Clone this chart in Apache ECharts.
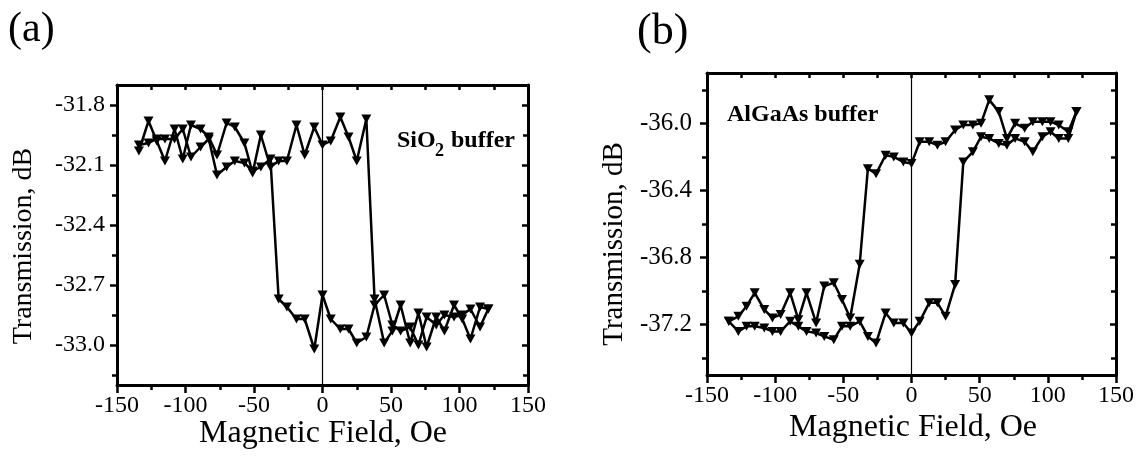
<!DOCTYPE html>
<html>
<head>
<meta charset="utf-8">
<script src="https://cdn.jsdelivr.net/npm/echarts@6/dist/echarts.min.js"></script>
<style>
  html, body { margin: 0; padding: 0; background: #fff; }
  #chart { width: 1137px; height: 456px; }
</style>
</head>
<body>
<div id="chart"></div>
<script>
const fieldOe = [-134,-127,-121,-115,-108,-102,-96,-89,-83,-77,-70,-64,-57,-51,-45,-38,-32,-26,-19,-13,
  -6,0,6,13,19,25,32,38,45,51,57,64,70,76,83,89,96,102,108,115,121];

// (a) SiO2 buffer
const sio2Up = [-32.03,-31.88,-31.98,-32.08,-31.92,-32.07,-31.90,-31.92,-31.96,-32.05,
  -31.89,-31.91,-31.99,-32.14,-31.95,-32.11,-32.08,-32.08,-31.90,-32.05,
  -31.91,-32.00,-31.98,-31.86,-31.96,-32.08,-31.87,-32.77,-32.99,-32.93,
  -32.80,-32.99,-32.84,-33.01,-32.86,-32.93,-32.80,-32.87,-32.97,-32.81,-32.82];
const sio2Down = [-32.00,-31.99,-31.97,-31.97,-31.97,-31.92,-32.06,-32.01,-31.97,-32.15,
  -32.11,-32.08,-32.09,-32.13,-32.11,-32.07,-32.77,-32.81,-32.87,-32.87,
  -33.02,-32.75,-32.87,-32.92,-32.92,-32.99,-32.96,-32.80,-32.75,-32.90,
  -32.93,-32.91,-33.00,-32.86,-32.90,-32.85,-32.86,-32.85,-32.82,-32.91,-32.82];

// (b) AlGaAs buffer
const algaasUp = [-37.18,-37.24,-37.21,-37.21,-37.22,-37.24,-37.24,-37.18,-37.21,-37.24,
  -37.25,-37.27,-37.29,-37.21,-37.21,-37.18,-37.27,-37.31,-37.13,-37.19,
  -37.19,-37.25,-37.18,-37.07,-37.07,-37.15,-36.96,-36.23,-36.17,-36.08,
  -36.09,-36.12,-36.13,-36.09,-36.11,-36.17,-36.08,-36.05,-36.09,-36.09,-35.93];
const algaasDown = [-37.18,-37.15,-37.09,-37.01,-37.11,-37.16,-37.14,-37.01,-37.17,-37.01,
  -37.19,-36.97,-36.95,-37.05,-37.16,-36.84,-36.27,-36.30,-36.19,-36.20,
  -36.23,-36.24,-36.11,-36.11,-36.13,-36.11,-36.04,-36.01,-36.01,-36.00,
  -35.86,-35.93,-36.09,-36.00,-36.03,-35.99,-35.99,-35.99,-36.01,-36.05,-35.93];

const sio2Range = [-33.2, -31.7];
const sio2Ticks = [-33.0, -32.7, -32.4, -32.1, -31.8];
const sio2Minor = [-33.15, -32.85, -32.55, -32.25, -31.95];
const algaasRange = [-37.5, -35.7];
const algaasTicks = [-37.2, -36.8, -36.4, -36.0];
const algaasMinor = [-37.4, -37.0, -36.6, -36.2, -35.8];

const FONT = '"Liberation Serif", "Times New Roman", serif';
const chart = echarts.init(document.getElementById('chart'));

function xAxes(gi) {
  const base = {
    type: 'value', gridIndex: gi, min: -150, max: 150, interval: 50,
    splitLine: { show: false },
    axisLine: { onZero: false, lineStyle: { color: '#000', width: 3 } }
  };
  return [
    Object.assign({}, base, {
      position: 'bottom',
      axisTick: { length: 8, lineStyle: { color: '#000', width: 2.5 } },
      minorTick: { show: true, splitNumber: 2, length: 5, lineStyle: { color: '#000', width: 2.5 } },
      axisLabel: { margin: 9, color: '#000', fontFamily: FONT, fontSize: 24 }
    }),
    Object.assign({}, base, {
      position: 'top',
      axisTick: { inside: true, length: 5, lineStyle: { color: '#000', width: 2.5 } },
      minorTick: { show: true, splitNumber: 2, length: 5, lineStyle: { color: '#000', width: 2.5 } },
      axisLabel: { show: false }
    })
  ];
}

function yAxes(gi, range, ticks, minor, labelSize, labelMargin) {
  const base = {
    type: 'value', gridIndex: gi, min: range[0], max: range[1],
    splitLine: { show: false },
    axisLine: { onZero: false, lineStyle: { color: '#000', width: 3 } }
  };
  const tickStyle = { color: '#000', width: 2.5 };
  return [
    Object.assign({}, base, {
      position: 'left',
      axisTick: { length: 7, customValues: ticks, lineStyle: tickStyle },
      axisLabel: { customValues: ticks, margin: labelMargin, color: '#000', fontFamily: FONT,
        fontSize: labelSize, formatter: v => v.toFixed(1) }
    }),
    Object.assign({}, base, {
      position: 'left',
      axisLine: { show: false, onZero: false },
      axisTick: { length: 5, customValues: minor, lineStyle: tickStyle },
      axisLabel: { show: false }
    }),
    Object.assign({}, base, {
      position: 'right',
      axisTick: { inside: true, length: 6, customValues: ticks, lineStyle: tickStyle },
      axisLabel: { show: false }
    }),
    Object.assign({}, base, {
      position: 'right',
      axisLine: { show: false, onZero: false },
      axisTick: { inside: true, length: 5, customValues: minor, lineStyle: tickStyle },
      axisLabel: { show: false }
    })
  ];
}

function sweep(values, xi, yi, zeroLine) {
  const s = {
    type: 'line', xAxisIndex: xi, yAxisIndex: yi,
    data: fieldOe.map((x, i) => [x, values[i]]),
    symbol: 'triangle', symbolRotate: 180, symbolSize: [10, 9], showAllSymbol: true,
    lineStyle: { color: '#000', width: 2.5 },
    itemStyle: { color: '#000' },
    silent: true
  };
  if (zeroLine) {
    s.markLine = {
      silent: true, symbol: 'none', label: { show: false },
      lineStyle: { color: '#000', width: 1.2, type: 'solid' },
      data: [{ xAxis: 0 }]
    };
  }
  return s;
}

const option = {
  animation: false,
  backgroundColor: '#fff',
  grid: [
    { left: 117, top: 85, width: 411, height: 300 },
    { left: 707, top: 73, width: 411, height: 302 }
  ],
  xAxis: xAxes(0).concat(xAxes(1)),
  yAxis: yAxes(0, sio2Range, sio2Ticks, sio2Minor, 24, 12)
    .concat(yAxes(1, algaasRange, algaasTicks, algaasMinor, 25, 15)),
  series: [
    sweep(sio2Up, 0, 0, true),
    sweep(sio2Down, 0, 0, false),
    sweep(algaasUp, 2, 4, true),
    sweep(algaasDown, 2, 4, false)
  ],
  graphic: [
    { type: 'text', x: 8, y: 30, style: { text: '(a)', font: '42px ' + FONT, fill: '#000', verticalAlign: 'middle' } },
    { type: 'text', x: 637, y: 32, style: { text: '(b)', font: '44px ' + FONT, fill: '#000', verticalAlign: 'middle' } },
    { type: 'text', x: 24, y: 246, rotation: Math.PI / 2,
      style: { text: 'Transmission, dB', font: '28px ' + FONT, fill: '#000', align: 'center', verticalAlign: 'middle' } },
    { type: 'text', x: 614, y: 244, rotation: Math.PI / 2,
      style: { text: 'Transmission, dB', font: '29px ' + FONT, fill: '#000', align: 'center', verticalAlign: 'middle' } },
    { type: 'text', x: 323, y: 434,
      style: { text: 'Magnetic Field, Oe', font: '32px ' + FONT, fill: '#000', align: 'center', verticalAlign: 'middle' } },
    { type: 'text', x: 913, y: 428,
      style: { text: 'Magnetic Field, Oe', font: '32px ' + FONT, fill: '#000', align: 'center', verticalAlign: 'middle' } },
    { type: 'text', x: 397, y: 141, style: { text: 'SiO', font: 'bold 24px ' + FONT, fill: '#000', verticalAlign: 'middle' } },
    { type: 'text', x: 435, y: 151, style: { text: '2', font: 'bold 18px ' + FONT, fill: '#000', verticalAlign: 'middle' } },
    { type: 'text', x: 451, y: 141, style: { text: 'buffer', font: 'bold 24px ' + FONT, fill: '#000', verticalAlign: 'middle' } },
    { type: 'text', x: 727, y: 115, style: { text: 'AlGaAs buffer', font: 'bold 24px ' + FONT, fill: '#000', verticalAlign: 'middle' } }
  ]
};
chart.setOption(option);
</script>
</body>
</html>
